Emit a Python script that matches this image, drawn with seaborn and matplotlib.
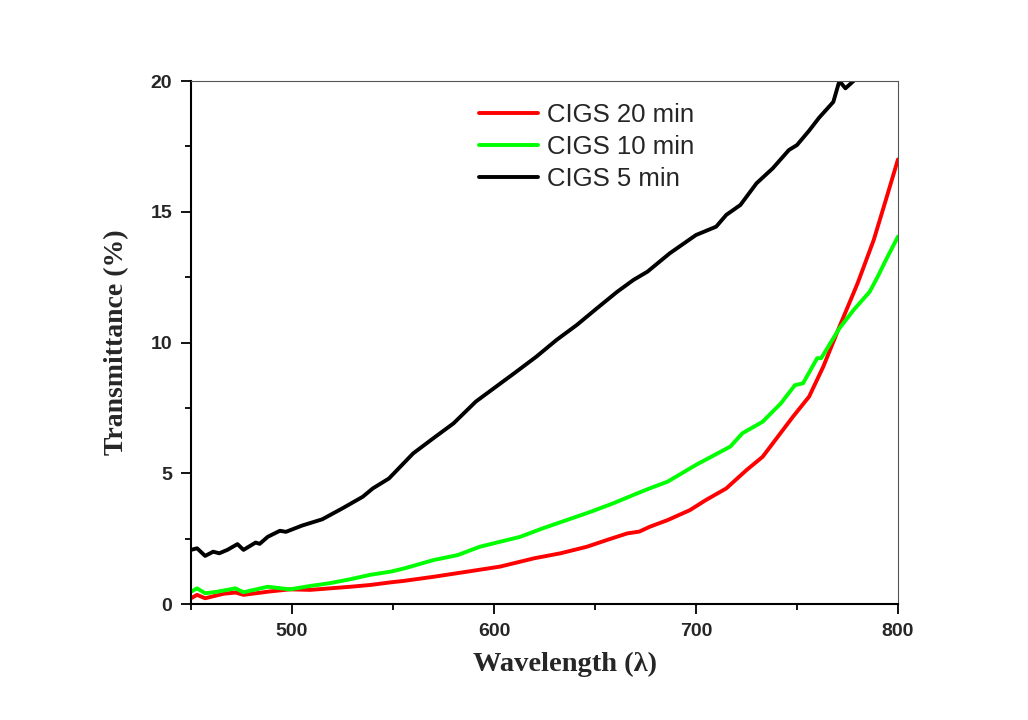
import numpy as np
import pandas as pd
import matplotlib
matplotlib.use("Agg")
import matplotlib.pyplot as plt
import seaborn as sns
from matplotlib.ticker import MultipleLocator

# ---- data ----
wl_20 = [450, 453, 457, 466, 472, 476, 489, 499, 509, 519, 529, 539, 549, 555, 570,
         587, 603, 620, 633, 646, 656, 666, 672, 677, 686, 697, 705, 715, 725, 733,
         738, 748, 756, 763, 771, 780, 788, 794, 800]
t_20 = [0.22, 0.35, 0.22, 0.39, 0.44, 0.35, 0.48, 0.56, 0.54, 0.60, 0.66, 0.73, 0.83, 0.88, 1.04,
        1.24, 1.43, 1.75, 1.94, 2.19, 2.45, 2.70, 2.77, 2.95, 3.21, 3.59, 3.98, 4.42, 5.12, 5.63,
        6.14, 7.16, 7.93, 9.07, 10.6, 12.26, 13.92, 15.45, 17.0]

wl_10 = [450, 453, 457, 463, 472, 476, 488, 499, 509, 519, 529, 539, 549, 556, 570,
         582, 593, 603, 613, 624, 636, 648, 659, 669, 677, 686, 700, 717, 723, 733,
         742, 749, 753, 760, 762, 771, 778, 786, 790, 794, 800]
t_10 = [0.47, 0.60, 0.41, 0.47, 0.60, 0.45, 0.66, 0.56, 0.69, 0.80, 0.95, 1.12, 1.24, 1.37, 1.68,
        1.87, 2.19, 2.38, 2.57, 2.89, 3.21, 3.53, 3.85, 4.17, 4.42, 4.68, 5.32, 6.02, 6.53, 6.97,
        7.67, 8.37, 8.44, 9.40, 9.40, 10.54, 11.24, 11.94, 12.52, 13.15, 14.05]

wl_5 = [450, 453, 457, 461, 464, 468, 473, 476, 482, 484, 488, 494, 497, 505, 515,
        525, 535, 540, 548, 553, 560, 570, 580, 591, 601, 611, 621, 631, 641, 651,
        661, 669, 676, 687, 700, 710, 715, 722, 730, 738, 746, 750, 756, 761, 768,
        771, 774, 778, 782]
t_5 = [2.07, 2.13, 1.84, 2.00, 1.94, 2.07, 2.29, 2.07, 2.35, 2.30, 2.57, 2.80, 2.76, 3.00, 3.24,
       3.66, 4.10, 4.42, 4.80, 5.20, 5.76, 6.34, 6.91, 7.74, 8.31, 8.88, 9.46, 10.1, 10.67, 11.31,
       11.94, 12.39, 12.71, 13.41, 14.11, 14.43, 14.88, 15.26, 16.09, 16.66, 17.36, 17.55, 18.1, 18.6, 19.2,
       20.0, 19.72, 20.0, 20.6]

labels = ["CIGS 20 min", "CIGS 10 min", "CIGS 5 min"]
colors = ["#ff0000", "#00ff00", "#000000"]
x_ticks = [500, 600, 700, 800]
y_ticks = [0, 5, 10, 15, 20]

df = pd.concat([
    pd.DataFrame({"Wavelength": wl_20, "T": t_20, "Sample": labels[0]}),
    pd.DataFrame({"Wavelength": wl_10, "T": t_10, "Sample": labels[1]}),
    pd.DataFrame({"Wavelength": wl_5, "T": t_5, "Sample": labels[2]}),
], ignore_index=True)

sns.set_style("ticks")
plt.rcParams["font.family"] = ["Liberation Sans", "DejaVu Sans"]

fig = plt.figure(figsize=(10.28, 7.2), dpi=100)
ax = fig.add_axes([0.1858, 0.1611, 0.6877, 0.7264])

sns.lineplot(data=df, x="Wavelength", y="T", hue="Sample", hue_order=labels,
             palette=colors, estimator=None, sort=True, linewidth=2.8, ax=ax)

ax.set_xlim(450, 800)
ax.set_ylim(0, 20)
ax.set_xticks(x_ticks)
ax.set_yticks(y_ticks)
ax.xaxis.set_minor_locator(MultipleLocator(50))
ax.yaxis.set_minor_locator(MultipleLocator(2.5))
ax.tick_params(which="major", direction="out", length=7.5, width=1.3, labelsize=14, pad=6, color="black")
ax.tick_params(which="minor", direction="out", length=4, width=1.3, color="black")
for lab in ax.get_xticklabels() + ax.get_yticklabels():
    lab.set_fontweight("bold")

for s in ["left", "bottom"]:
    ax.spines[s].set_linewidth(1.5)
    ax.spines[s].set_color("black")
for s in ["top", "right"]:
    ax.spines[s].set_visible(True)
    ax.spines[s].set_linewidth(0.8)
    ax.spines[s].set_color("#555555")

ax.set_xlabel("Wavelength (λ)", fontsize=20.5, fontweight="bold", family=["Liberation Serif", "DejaVu Serif"])
ax.set_ylabel("Transmittance (%)", fontsize=20, fontweight="bold", family=["Liberation Serif", "DejaVu Serif"])
ax.xaxis.set_label_coords(0.529, -0.092)
ax.yaxis.set_label_coords(-0.087, 0.5)

leg = ax.legend(loc="upper left", bbox_to_anchor=(0.407, 0.957), frameon=False,
                fontsize=18.5, handlelength=2.3, handletextpad=0.35, labelspacing=0.3,
                borderpad=0, borderaxespad=0)
for h in leg.get_lines():
    h.set_linewidth(2.8)

fig.savefig("out.png", dpi=100, facecolor="white")
